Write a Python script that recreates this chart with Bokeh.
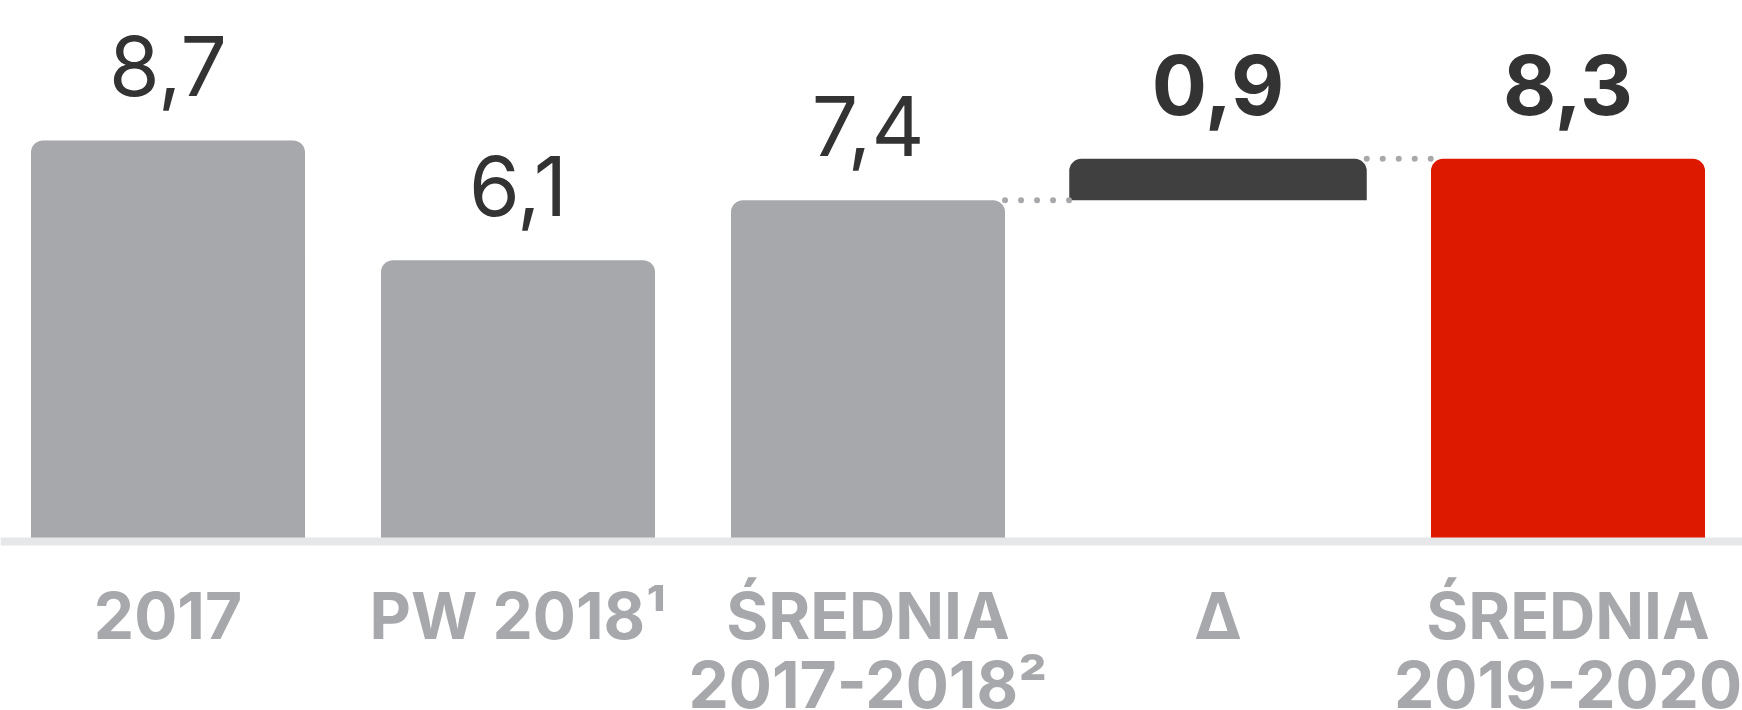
from bokeh.plotting import figure
from bokeh.models import Range1d, Span, ColumnDataSource
from bokeh.core.properties import value
from bokeh.embed import file_html
from bokeh.resources import INLINE

# ---- data ----
categories = ["2017", "PW 2018¹", "ŚREDNIA\n2017-2018²", "Δ", "ŚREDNIA\n2019-2020"]
values = [8.7, 6.1, 7.4, 0.9, 8.3]
kinds = ["total", "total", "total", "delta", "total"]
bar_colors = ["#a7a8ab", "#a7a8ab", "#a7a8ab", "#404040", "#dd1a00"]
label_bold = [False, False, False, True, True]

# ---- derived geometry ----
xs = list(range(len(categories)))
bottoms, tops = [], []
for i, (v, k) in enumerate(zip(values, kinds)):
    if k == "delta":
        b = tops[i - 1]
        bottoms.append(b)
        tops.append(b + v)
    else:
        bottoms.append(0)
        tops.append(v)
widths = [0.85 if k == "delta" else 0.783 for k in kinds]
labels = [f"{v:.1f}".replace(".", ",") for v in values]
line1 = [c.split("\n")[0] for c in categories]
line2 = [c.split("\n")[1] if "\n" in c else "" for c in categories]

W, H = 1742, 710
px_per_x = 350.0
x0_px = 167.5
px_per_y = 46.1
y0_px_from_bottom = H - 541

FONT = "Inter"

p = figure(width=W, height=H, output_backend="svg", toolbar_location=None,
           x_axis_location=None, y_axis_location=None, min_border=0,
           x_range=Range1d(-x0_px / px_per_x, (W - x0_px) / px_per_x),
           y_range=Range1d(-y0_px_from_bottom / px_per_y, (H - y0_px_from_bottom) / px_per_y))
p.outline_line_color = None
p.grid.visible = False
p.background_fill_color = "white"
p.border_fill_color = "white"

src = ColumnDataSource(dict(x=xs, bottom=bottoms, top=tops, width=widths, color=bar_colors,
                            label=labels, line1=line1, line2=line2))
p.vbar(x="x", bottom="bottom", top="top", width="width", fill_color="color",
       line_color=None, border_radius=(12, 12, 0, 0), source=src)

# dotted connectors between waterfall steps
for i in range(len(xs) - 1):
    if kinds[i + 1] == "delta" or kinds[i] == "delta":
        yv = tops[i]
        p.segment(x0=[xs[i] + widths[i] / 2], y0=[yv], x1=[xs[i + 1] - widths[i + 1] / 2], y1=[yv],
                  line_color="#a7a8ab", line_width=6, line_dash="0 16", line_cap="round")

# baseline
p.add_layout(Span(location=0, dimension="width", line_color="#e6e7e8", line_width=8, level="overlay"))

# value labels
for bold in (False, True):
    idx = [i for i in xs if label_bold[i] == bold]
    p.text(x=[xs[i] for i in idx], y=[tops[i] for i in idx], text=[labels[i] for i in idx],
           text_align="center", text_baseline="alphabetic", y_offset=-74,
           text_font=value(FONT), text_font_size="82px",
           text_font_style="bold" if bold else "normal", text_color="#333333")

# category labels
p.text(x="x", y=0, text="line1", source=src, text_align="center", text_baseline="alphabetic",
       y_offset=74, text_font=value(FONT), text_font_size="64px", text_font_style="bold",
       text_color="#a7a8ab")
p.text(x="x", y=0, text="line2", source=src, text_align="center", text_baseline="alphabetic",
       y_offset=143, text_font=value(FONT), text_font_size="64px", text_font_style="bold",
       text_color="#a7a8ab")

open("out.html", "w").write(file_html(p, INLINE))
